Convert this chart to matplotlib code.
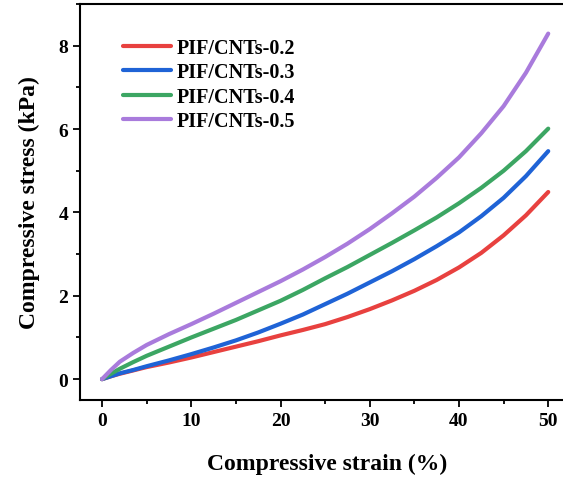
import numpy as np
import matplotlib.pyplot as plt
from matplotlib.ticker import MultipleLocator

plt.rcParams['font.family'] = ['Liberation Serif', 'DejaVu Serif']
plt.rcParams['font.weight'] = 'bold'

# strain (%) and stress (kPa)
strain = [0, 1, 2, 3.5, 5, 7.5, 10, 12.5, 15, 17.5, 20, 22.5, 25, 27.5,
          30, 32.5, 35, 37.5, 40, 42.5, 45, 47.5, 50]
s02 = [0, 0.07, 0.13, 0.21, 0.29, 0.40, 0.52, 0.65, 0.78, 0.91, 1.05, 1.18,
       1.32, 1.49, 1.68, 1.89, 2.12, 2.38, 2.68, 3.03, 3.45, 3.93, 4.49]
s03 = [0, 0.07, 0.14, 0.22, 0.31, 0.45, 0.60, 0.76, 0.93, 1.12, 1.33, 1.55,
       1.80, 2.05, 2.32, 2.59, 2.88, 3.19, 3.52, 3.91, 4.35, 4.87, 5.47]
s04 = [0, 0.13, 0.25, 0.41, 0.56, 0.78, 1.00, 1.21, 1.42, 1.65, 1.88, 2.14,
       2.42, 2.69, 2.98, 3.27, 3.57, 3.88, 4.22, 4.59, 5.00, 5.47, 6.01]
s05 = [0, 0.22, 0.42, 0.63, 0.82, 1.08, 1.32, 1.57, 1.83, 2.09, 2.35, 2.63,
       2.93, 3.25, 3.60, 3.98, 4.38, 4.83, 5.32, 5.90, 6.55, 7.35, 8.29]

labels = ['PIF/CNTs-0.2', 'PIF/CNTs-0.3', 'PIF/CNTs-0.4', 'PIF/CNTs-0.5']
colors = ['#e8413f', '#1f63d6', '#3ca663', '#a97bdc']

fig = plt.figure(figsize=(5.63, 4.81), dpi=100)
ax = fig.add_axes([80/563, 80/481, 495/563, 396/481])

for ys, lab, c in zip([s02, s03, s04, s05], labels, colors):
    ax.plot(strain, ys, color=c, lw=3, label=lab, solid_capstyle='round')

ax.set_xlim(-2.47, 53.0)
ax.set_ylim(-0.5, 9.0)
ax.xaxis.set_major_locator(MultipleLocator(10))
ax.xaxis.set_minor_locator(MultipleLocator(5))
ax.yaxis.set_major_locator(MultipleLocator(2))
ax.yaxis.set_minor_locator(MultipleLocator(1))
ax.tick_params(which='major', direction='out', length=5, width=1.3, labelsize=14)
ax.tick_params(which='minor', direction='out', length=3, width=1.3)
for sp in ax.spines.values():
    sp.set_linewidth(1.5)

ax.set_xlabel('Compressive strain (%)', fontsize=17, fontweight='bold', labelpad=17)
ax.set_ylabel('Compressive stress (kPa)', fontsize=17, fontweight='bold', labelpad=13)

ax.legend(loc='upper left', bbox_to_anchor=(113/563, 1 - 29/481),
          bbox_transform=fig.transFigure, frameon=False, borderpad=0,
          handlelength=2.4, handletextpad=0.25, labelspacing=0.22,
          prop={'weight': 'bold', 'size': 14.5})

fig.savefig('out.png', dpi=100)
